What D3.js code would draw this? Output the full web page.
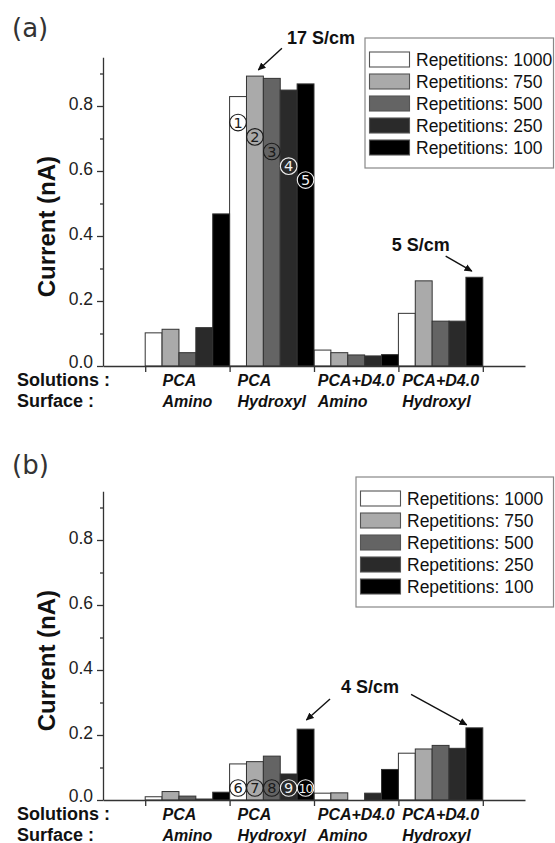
<!DOCTYPE html>
<html><head><meta charset="utf-8">
<script src="https://cdn.jsdelivr.net/npm/d3@7"></script>
<style>body{margin:0;background:#fff}svg{display:block}</style>
</head><body>
<script>
// ---- data ----
const solutions = ["PCA", "PCA", "PCA+D4.0", "PCA+D4.0"];
const surfaces = ["Amino", "Hydroxyl", "Amino", "Hydroxyl"];
const seriesNames = ["Repetitions: 1000", "Repetitions: 750", "Repetitions: 500", "Repetitions: 250", "Repetitions: 100"];
const seriesColors = ["#ffffff", "#aaaaaa", "#646464", "#2a2a2a", "#000000"];
// rows = series (1000, 750, 500, 250, 100); columns = categories
const valuesA = [
  [0.102, 0.829, 0.049, 0.162],
  [0.113, 0.892, 0.041, 0.262],
  [0.041, 0.885, 0.034, 0.138],
  [0.118, 0.849, 0.031, 0.138],
  [0.468, 0.868, 0.035, 0.273]
];
const valuesB = [
  [0.010, 0.111, 0.021, 0.144],
  [0.026, 0.118, 0.022, 0.157],
  [0.012, 0.135, 0.000, 0.168],
  [0.003, 0.080, 0.021, 0.159],
  [0.024, 0.218, 0.094, 0.222]
];
const yTicks = [0, 0.2, 0.4, 0.6, 0.8];
const yMinorTicks = [0.1, 0.3, 0.5, 0.7, 0.9];
const yMax = 0.95;
const markerLabelsA = ["1", "2", "3", "4", "5"];
const markerValuesA = [0.749, 0.705, 0.660, 0.615, 0.572];
const markerLabelsB = ["6", "7", "8", "9", "10"];
const markerValuesB = [0.037, 0.037, 0.037, 0.037, 0.037];
const markerCategory = 1;
// annotations in data units (x: category axis units, y: current)
const annotA = [{text: "17 S/cm", x: 2.18, y: 0.991, arrows: [[2.12, 0.978, 1.84, 0.911]]},
                {text: "5 S/cm", x: 3.42, y: 0.354, arrows: [[4.06, 0.338, 4.37, 0.292]]}];
const annotB = [{text: "4 S/cm", x: 2.82, y: 0.328, arrows: [[2.69, 0.311, 2.41, 0.246], [3.65, 0.325, 4.31, 0.231]]}];

const W = 555, H = 843;
const svg = d3.select("body").append("svg").attr("width", W).attr("height", H);
const defs = svg.append("defs");
defs.append("marker").attr("id", "ah").attr("viewBox", "0 0 10 10").attr("refX", 9).attr("refY", 5)
  .attr("markerWidth", 8).attr("markerHeight", 8).attr("markerUnits", "userSpaceOnUse").attr("orient", "auto")
  .append("path").attr("d", "M0,0.5 L10,5 L0,9.5 Z").attr("fill", "#111");

const FONT = "'Liberation Sans', Arial, sans-serif";

function panel(cfg) {
  const g = svg.append("g");
  const x = d3.scaleLinear().domain([0, 5]).range([103, 525]);
  const y = d3.scaleLinear().domain([0, yMax]).range([cfg.base, cfg.base - 308.75]);
  const bw = x(0.2) - x(0);

  // bars
  cfg.values.forEach((row, s) => {
    g.append("g").selectAll("rect").data(row).join("rect")
      .attr("x", (d, i) => x(i + 0.5 + s * 0.2))
      .attr("y", d => y(d))
      .attr("width", bw)
      .attr("height", d => y(0) - y(d))
      .attr("fill", seriesColors[s])
      .attr("stroke", "#333").attr("stroke-width", 1);
  });

  // circled markers
  cfg.markers.forEach((lab, s) => {
    const cx = x(markerCategory + 0.5 + s * 0.2 + 0.1), cy = y(cfg.markerValues[s]);
    const col = s >= 3 ? "#f0f0f0" : "#1a1a1a";
    g.append("circle").attr("cx", cx).attr("cy", cy).attr("r", 8.3)
      .attr("fill", "none").attr("stroke", col).attr("stroke-width", 1.1);
    g.append("text").attr("x", cx).attr("y", cy + 5.3).attr("text-anchor", "middle")
      .attr("font-family", "'DejaVu Sans', sans-serif").attr("font-size", lab.length > 1 ? 12.5 : 14.5)
      .attr("letter-spacing", lab.length > 1 ? -1 : 0).attr("fill", col).text(lab);
  });

  // y axis
  const ya = g.append("g").attr("transform", `translate(${x(0)},0)`)
    .call(d3.axisLeft(y).tickValues(yTicks).tickFormat(d3.format(".1f")).tickSize(6).tickSizeOuter(0).tickPadding(4));
  ya.selectAll("text").attr("font-family", FONT).attr("font-size", 17.5).attr("fill", "#222")
    .attr("dy", d => d === 0 ? "0.1em" : "0.22em");
  ya.selectAll("line,path").attr("stroke", "#333").attr("stroke-width", 1.3);
  const ym = g.append("g").attr("transform", `translate(${x(0)},0)`)
    .call(d3.axisLeft(y).tickValues(yMinorTicks).tickFormat("").tickSize(3).tickSizeOuter(0));
  ym.select("path").remove();
  ym.selectAll("line").attr("stroke", "#333").attr("stroke-width", 1.3);

  // x axis
  const xa = g.append("g").attr("transform", `translate(0,${y(0)})`)
    .call(d3.axisBottom(x).tickValues([0.5, 1.5, 2.5, 3.5, 4.5]).tickFormat("").tickSize(6).tickSizeOuter(0));
  xa.selectAll("line,path").attr("stroke", "#333").attr("stroke-width", 1.3);

  // y label
  g.append("text").attr("transform", `translate(55,${(y(0) + y(yMax)) / 2 + 15}) rotate(-90)`)
    .attr("text-anchor", "middle").attr("font-family", FONT).attr("font-weight", "bold")
    .attr("font-size", 24).attr("fill", "#111").text("Current (nA)");

  // row headers
  const b1 = y(0) + 19.5, b2 = y(0) + 40.5;
  g.append("text").attr("x", 17).attr("y", b1).attr("font-family", FONT).attr("font-weight", "bold")
    .attr("font-size", 18).attr("fill", "#111").text("Solutions :");
  g.append("text").attr("x", 17).attr("y", b2).attr("font-family", FONT).attr("font-weight", "bold")
    .attr("font-size", 18).attr("fill", "#111").text("Surface :");

  // category labels (block centered in group, lines left-aligned)
  solutions.forEach((sol, i) => {
    const t = g.append("text").attr("font-family", FONT).attr("font-weight", "bold").attr("font-style", "italic")
      .attr("font-size", 16).attr("fill", "#111");
    const t1 = t.append("tspan").attr("y", b1).text(sol);
    const t2 = t.append("tspan").attr("y", b2).text(surfaces[i]);
    const w = Math.max(t1.node().getComputedTextLength(), t2.node().getComputedTextLength());
    const left = x(i + 1) - w / 2;
    t1.attr("x", left); t2.attr("x", left);
  });

  // annotations
  cfg.annot.forEach(a => {
    g.append("text").attr("x", x(a.x)).attr("y", y(a.y)).attr("font-family", FONT).attr("font-weight", "bold")
      .attr("font-size", 18).attr("fill", "#111").text(a.text);
    a.arrows.forEach(ar => {
      g.append("line").attr("x1", x(ar[0])).attr("y1", y(ar[1])).attr("x2", x(ar[2])).attr("y2", y(ar[3]))
        .attr("stroke", "#111").attr("stroke-width", 1.4).attr("marker-end", "url(#ah)");
    });
  });

  // panel label
  g.append("text").attr("x", 12).attr("y", cfg.labelY).attr("font-family", "'DejaVu Sans', sans-serif")
    .attr("font-size", 26).attr("fill", "#333").text(cfg.label);

  // legend
  const L = g.append("g").attr("transform", `translate(${cfg.legX},${cfg.legY})`);
  L.append("rect").attr("x", 0).attr("y", 0).attr("width", 553.5 - cfg.legX).attr("height", 130)
    .attr("fill", "#fff").attr("stroke", "#888").attr("stroke-width", 1.2);
  seriesNames.forEach((nm, s) => {
    L.append("rect").attr("x", 4.5).attr("y", 14 + s * 22).attr("width", 40).attr("height", 15)
      .attr("fill", seriesColors[s]).attr("stroke", "#555").attr("stroke-width", 1.1);
    L.append("text").attr("x", 51).attr("y", 27.5 + s * 22).attr("font-family", FONT)
      .attr("font-size", 17.5).attr("fill", "#111").text(nm);
  });
}

panel({base: 366, values: valuesA, markers: markerLabelsA, markerValues: markerValuesA, annot: annotA,
       label: "(a)", labelY: 37, legX: 365, legY: 38});
panel({base: 800, values: valuesB, markers: markerLabelsB, markerValues: markerValuesB, annot: annotB,
       label: "(b)", labelY: 474, legX: 356, legY: 477});
</script>
</body></html>
